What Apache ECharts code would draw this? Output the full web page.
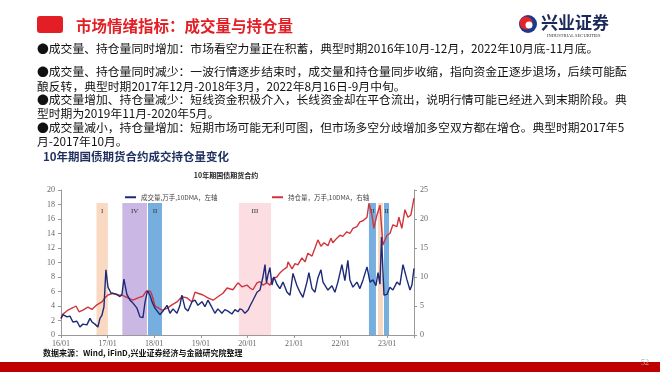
<!DOCTYPE html>
<html><head><meta charset="utf-8">
<script src="https://cdn.jsdelivr.net/npm/echarts@6/dist/echarts.min.js"></script>
<style>html,body{margin:0;padding:0;background:#fff}#c{width:660px;height:372px}</style>
</head><body><div id="c"></div>
<script>
// ---------- data ----------
const xTickLabels = ['16/01','17/01','18/01','19/01','20/01','21/01','22/01','23/01'];
const volName = '成交量,万手,10DMA，左轴';
const oiName = '持仓量，万手,10DMA，右轴';
const volDates = ['2016-01-01','2016-01-16','2016-02-17','2016-03-10','2016-04-03','2016-05-04','2016-05-27','2016-06-20','2016-07-21','2016-08-15','2016-08-30','2016-09-23','2016-10-16','2016-11-02','2016-11-17','2016-12-03','2016-12-18','2017-01-04','2017-01-27','2017-02-12','2017-03-13','2017-04-06','2017-04-22','2017-05-07','2017-05-30','2017-06-24','2017-07-17','2017-08-18','2017-09-11','2017-10-04','2017-10-20','2017-11-09','2017-11-28','2017-12-14','2018-01-07','2018-02-15','2018-03-09','2018-04-10','2018-05-03','2018-05-26','2018-06-27','2018-07-20','2018-08-05','2018-08-29','2018-09-22','2018-10-23','2018-11-16','2018-12-09','2019-01-10','2019-02-03','2019-02-26','2019-03-27','2019-04-20','2019-05-13','2019-06-14','2019-07-07','2019-08-01','2019-09-01','2019-09-25','2019-10-18','2019-11-03','2019-11-19','2019-12-12','2020-01-05','2020-01-21','2020-02-14','2020-03-15','2020-04-08','2020-05-01','2020-05-17','2020-05-28','2020-06-10','2020-06-25','2020-07-11','2020-07-26','2020-08-19','2020-09-12','2020-10-06','2020-11-07','2020-11-30','2020-12-23','2021-01-24','2021-02-17','2021-03-10','2021-04-11','2021-04-26','2021-05-20','2021-06-13','2021-07-06','2021-07-29','2021-08-15','2021-08-30','2021-09-23','2021-10-24','2021-11-17','2021-12-10','2022-01-11','2022-02-04','2022-02-27','2022-03-13','2022-04-06','2022-05-07','2022-05-30','2022-06-24','2022-07-25','2022-08-18','2022-09-11','2022-10-04','2022-10-20','2022-11-05','2022-11-17','2022-12-06','2022-12-29','2023-01-22','2023-02-15','2023-03-16','2023-04-09','2023-05-03','2023-06-04','2023-06-27','2023-07-12','2023-07-28'];
const volValues = [2.3,2.8,2.5,2.6,1.8,1.9,1.1,1.5,1.4,2.3,1.8,1.5,1.1,2.3,2.7,3.9,9.0,6.6,5.8,6.0,5.6,5.3,5.6,7.7,5.6,4.8,4.4,3.7,2.5,2.4,4.5,6.1,5.5,4.6,3.7,2.8,3.3,4.1,3.0,3.6,3.0,4.1,5.5,3.7,3.3,4.6,4.8,4.1,4.6,3.9,4.8,3.8,3.0,3.6,3.0,3.5,3.3,2.9,3.5,3.2,3.6,3.5,3.0,3.4,4.0,4.8,5.9,6.2,8.0,9.7,7.2,8.3,9.3,6.9,8.0,7.0,6.4,7.3,5.9,5.5,8.5,6.8,5.9,5.2,7.3,8.6,6.4,5.9,7.9,9.0,7.3,7.5,6.2,6.8,5.9,7.3,9.7,7.5,10.3,7.6,6.6,7.3,6.4,7.6,9.4,7.3,7.6,6.8,8.6,7.0,13.5,5.5,5.6,6.6,6.2,7.3,6.9,9.7,7.6,6.2,6.9,9.2];
const oiDates = ['2016-01-01','2016-01-16','2016-02-09','2016-02-25','2016-04-03','2016-04-27','2016-05-20','2016-06-20','2016-07-29','2016-08-30','2016-10-08','2016-11-17','2016-12-10','2017-01-04','2017-02-12','2017-03-21','2017-04-30','2017-06-08','2017-07-17','2017-08-26','2017-10-04','2017-11-01','2017-12-03','2017-12-14','2018-01-07','2018-01-23','2018-03-01','2018-04-10','2018-05-18','2018-06-27','2018-08-05','2018-09-14','2018-10-23','2018-11-16','2018-12-09','2019-01-18','2019-02-26','2019-04-06','2019-05-13','2019-06-22','2019-07-24','2019-09-09','2019-10-18','2019-11-03','2019-11-19','2019-12-28','2020-01-21','2020-02-14','2020-03-15','2020-04-08','2020-05-01','2020-06-02','2020-06-25','2020-07-19','2020-08-19','2020-09-12','2020-10-06','2020-11-07','2020-11-15','2020-12-16','2021-01-09','2021-02-01','2021-03-02','2021-03-26','2021-04-18','2021-05-20','2021-06-13','2021-07-06','2021-07-29','2021-08-23','2021-09-23','2021-10-16','2021-11-01','2021-12-02','2021-12-26','2022-01-18','2022-02-19','2022-03-13','2022-04-06','2022-05-07','2022-05-30','2022-06-24','2022-07-25','2022-08-10','2022-09-03','2022-09-18','2022-10-12','2022-11-05','2022-11-28','2022-12-29','2023-01-22','2023-02-15','2023-03-16','2023-04-01','2023-04-24','2023-05-18','2023-06-11','2023-07-04','2023-07-28'];
const oiValues = [2.8,3.6,4.0,4.3,4.7,5.0,4.0,4.3,4.8,4.4,5.2,5.7,6.4,6.9,7.2,6.9,6.8,6.4,6.0,6.4,6.7,7.6,7.5,6.9,5.0,4.8,4.3,4.6,5.2,5.7,6.6,6.4,5.7,7.4,7.2,6.9,6.4,6.0,6.6,7.2,8.1,7.8,9.0,9.3,8.3,8.6,8.1,7.8,9.0,9.2,8.6,9.0,8.6,9.8,10.0,10.7,11.2,11.7,12.6,11.4,12.3,12.1,13.3,12.6,14.1,13.6,15.0,16.4,15.3,15.9,15.4,16.7,15.9,16.7,17.2,17.0,17.8,17.5,18.4,18.7,19.5,19.7,20.3,22.7,20.7,18.4,20.7,22.4,15.5,17.2,17.5,19.0,18.7,20.3,18.4,21.6,20.3,20.7,23.6];
const bandStarts = ['2016-10-05','2017-04-25','2017-11-13','2019-10-25','2022-08-10','2022-10-20','2022-12-06'];
const bandEnds   = ['2017-01-03','2017-11-05','2018-03-01','2020-07-03','2022-10-04','2022-11-28','2023-01-15'];
const bandLabels = ['I','IV','II','III','II','I','II'];
const bandTop = 18.2;

const bullets = [
  '●成交量、持仓量同时增加：市场看空力量正在积蓄，典型时期2016年10月-12月，2022年10月底-11月底。',
  '●成交量、持仓量同时减少：一波行情逐步结束时，成交量和持仓量同步收缩，指向资金正逐步退场，后续可能酝',
  '酿反转，典型时期2017年12月-2018年3月，2022年8月16日-9月中旬。',
  '●成交量增加、持仓量减少：短线资金积极介入，长线资金却在平仓流出，说明行情可能已经进入到末期阶段。典',
  '型时期为2019年11月-2020年5月。',
  '●成交量减小，持仓量增加：短期市场可能无利可图，但市场多空分歧增加多空双方都在增仓。典型时期2017年5',
  '月-2017年10月。'
];

// ---------- styles ----------
const bandColor = {I:'#f9d9c2', II:'#76aee0', III:'#fbdde2', IV:'#cbb7e3'};
const bulletY = [49,72,87,100,114,128,142];
const serif = '"Liberation Serif","DejaVu Serif",serif';
const cjk = '"Noto Sans CJK SC","Noto Sans CJK JP",sans-serif';

function toM(s){const p=s.split('-').map(Number);return (p[0]-2016)*12+(p[1]-1)+(p[2]-1)/30;}
const volData = volDates.map((d,i)=>[toM(d),volValues[i]]);
const oiData = oiDates.map((d,i)=>[toM(d),oiValues[i]]);
const bands = bandStarts.map((s,i)=>[
  {xAxis:toM(s),yAxis:0,itemStyle:{color:bandColor[bandLabels[i]]},
   label:{show:true,position:'insideTop',distance:5,formatter:bandLabels[i],fontFamily:serif,fontSize:7,color:'#333'}},
  {xAxis:toM(bandEnds[i]),yAxis:bandTop}
]);

const chart = echarts.init(document.getElementById('c'),null,{renderer:'canvas'});
const graphics = [
  {type:'rect',shape:{x:37,y:16,width:26,height:17,r:3},style:{fill:'#e31e25'}},
  {type:'text',style:{text:'市场情绪指标：成交量与持仓量',x:76,y:26,fontSize:15.5,fontWeight:'bold',fontFamily:cjk,fill:'#e31e25',verticalAlign:'middle'}},
  {type:'circle',shape:{cx:528,cy:24,r:9},style:{fill:'#1d3a8a'}},
  {type:'circle',shape:{cx:526,cy:23,r:6.5},style:{fill:'#e2242b'}},
  {type:'circle',shape:{cx:529,cy:25,r:3.5},style:{fill:'#fff'}},
  {type:'text',style:{text:'兴业证券',x:541,y:23,fontSize:17,fontWeight:'bold',fontFamily:'"Noto Sans CJK SC",serif',fill:'#1b2a5a',verticalAlign:'middle',letterSpacing:1}},
  {type:'text',style:{text:'INDUSTRIAL SECURITIES',x:547,y:36,fontSize:4.5,fontFamily:serif,fill:'#333',verticalAlign:'middle'}},
  {type:'text',style:{text:'10年期国债期货合约成交持仓量变化',x:43,y:157,fontSize:11.5,fontWeight:'bold',fontFamily:cjk,fill:'#1f2f5f',verticalAlign:'middle'}},
  {type:'text',style:{text:'10年期国债期货合约',x:226,y:175,fontSize:7,fontWeight:'bold',fontFamily:cjk,fill:'#222',align:'center',verticalAlign:'middle'}},
  {type:'text',style:{text:'数据来源：Wind, iFinD,兴业证券经济与金融研究院整理',x:43,y:353,fontSize:8,fontWeight:'bold',fontFamily:cjk,fill:'#111',verticalAlign:'middle'}},
  {type:'rect',shape:{x:0,y:362,width:660,height:10},style:{fill:'#c00000'}},
  {type:'text',style:{text:'52',x:641,y:363,fontSize:8,fontFamily:serif,fill:'#b0b0b0',verticalAlign:'middle'}}
];
bullets.forEach((t,i)=>graphics.push({type:'text',style:{text:t,x:37,y:bulletY[i],fontSize:11.8,fontFamily:cjk,fill:'#111',verticalAlign:'middle'}}));

const axisLbl = {fontFamily:serif,fontSize:8,color:'#666'};
chart.setOption({
  animation:false,
  backgroundColor:'#fff',
  grid:{left:61,right:246,top:190,bottom:37},
  legend:[
    {left:120,top:189,itemWidth:11,itemHeight:2,icon:'rect',itemGap:6,data:[volName],textStyle:{fontSize:6.5,color:'#444',fontFamily:cjk}},
    {left:267,top:189,itemWidth:11,itemHeight:2,icon:'rect',data:[oiName],textStyle:{fontSize:6.5,color:'#444',fontFamily:cjk}}
  ],
  xAxis:{type:'value',min:0,max:90.9,interval:12,
    axisLine:{lineStyle:{color:'#999'}},axisTick:{show:true,length:3,lineStyle:{color:'#999'}},
    splitLine:{show:false},
    axisLabel:Object.assign({formatter:(v)=>xTickLabels[Math.round(v/12)]||'',margin:5},axisLbl)},
  yAxis:[
    {type:'value',min:0,max:20,interval:2,axisLine:{show:true,lineStyle:{color:'#999'}},axisTick:{show:true,length:3,lineStyle:{color:'#999'}},splitLine:{show:false},axisLabel:Object.assign({margin:6},axisLbl)},
    {type:'value',min:0,max:25,interval:5,position:'right',axisLine:{show:true,lineStyle:{color:'#999'}},axisTick:{show:true,length:3,lineStyle:{color:'#999'}},splitLine:{show:false},axisLabel:Object.assign({margin:6},axisLbl)}
  ],
  series:[
    {name:oiName,type:'line',yAxisIndex:1,data:oiData,showSymbol:false,lineStyle:{color:'#d2343c',width:1.4},itemStyle:{color:'#d2343c'},z:3},
    {name:volName,type:'line',yAxisIndex:0,data:volData,showSymbol:false,lineStyle:{color:'#1c2a78',width:1.4},itemStyle:{color:'#1c2a78'},z:4,
      markArea:{silent:true,data:bands}}
  ],
  graphic:graphics
});
</script></body></html>
